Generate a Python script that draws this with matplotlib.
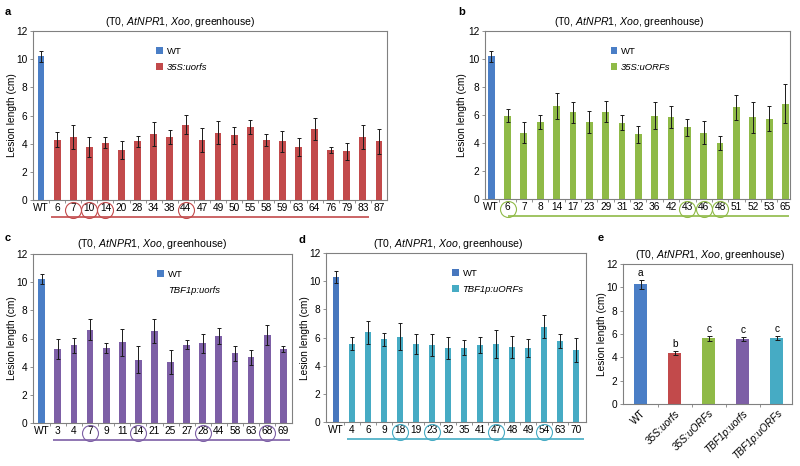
import matplotlib
matplotlib.use('Agg')
import matplotlib.pyplot as plt
from matplotlib.patches import Patch
import matplotlib.transforms as mtransforms
import numpy as np

plt.rcParams['font.family'] = ['Liberation Sans', 'DejaVu Sans']
plt.rcParams['mathtext.fontset'] = 'custom'
plt.rcParams['mathtext.rm'] = 'Liberation Sans'
plt.rcParams['mathtext.it'] = 'Liberation Sans:italic'

TITLE = r'(T0, $\it{AtNPR1}$, $\it{Xoo}$, greenhouse)'
YLABEL = 'Lesion length (cm)'

# ---- panel a (35S:uorfs) ----
a_lines = ['WT', '6', '7', '10', '14', '20', '28', '34', '38', '44', '47', '49',
           '50', '55', '58', '59', '63', '64', '76', '79', '83', '87']
a_values = [10.2, 4.27, 4.48, 3.77, 4.08, 3.55, 4.17, 4.69, 4.48, 5.36, 4.27, 4.79,
            4.6, 5.19, 4.27, 4.17, 3.77, 5.07, 3.55, 3.46, 4.48, 4.17]
a_errors = [0.4, 0.54, 0.85, 0.71, 0.4, 0.62, 0.4, 0.83, 0.5, 0.66, 0.85, 0.8,
            0.6, 0.52, 0.42, 0.73, 0.64, 0.78, 0.22, 0.6, 0.85, 0.88]
a_circled = ['7', '10', '14', '44']
a_legend = '35S:uorfs'

# ---- panel b (35S:uORFs) ----
b_lines = ['WT', '6', '7', '8', '14', '17', '23', '29', '31', '32', '36', '42',
           '43', '46', '48', '51', '52', '53', '65']
b_values = [10.2, 5.95, 4.75, 5.5, 6.65, 6.2, 5.5, 6.25, 5.45, 4.63, 5.96, 5.84,
            5.13, 4.75, 3.99, 6.56, 5.84, 5.75, 6.82]
b_errors = [0.4, 0.45, 0.78, 0.5, 0.93, 0.74, 0.79, 0.75, 0.54, 0.6, 0.98, 0.79,
            0.62, 0.81, 0.48, 0.9, 1.1, 0.92, 1.37]
b_circled = ['6', '43', '46', '48']
b_legend = '35S:uORFs'

# ---- panel c (TBF1p:uorfs) ----
c_lines = ['WT', '3', '4', '7', '9', '11', '14', '21', '25', '27', '28', '44',
           '58', '63', '68', '69']
c_values = [10.2, 5.23, 5.51, 6.63, 5.33, 5.73, 4.5, 6.53, 4.35, 5.56, 5.66, 6.18,
            4.95, 4.66, 6.27, 5.25]
c_errors = [0.35, 0.7, 0.55, 0.75, 0.33, 0.97, 0.94, 0.83, 0.85, 0.33, 0.68, 0.57,
            0.54, 0.54, 0.71, 0.24]
c_circled = ['7', '14', '28', '68']
c_legend = 'TBF1p:uorfs'

# ---- panel d (TBF1p:uORFs) ----
d_lines = ['WT', '4', '6', '9', '18', '19', '23', '32', '35', '41', '47', '48',
           '49', '54', '63', '70']
d_values = [10.3, 5.55, 6.37, 5.88, 6.05, 5.55, 5.45, 5.25, 5.28, 5.47, 5.56, 5.33,
            5.28, 6.77, 5.75, 5.09]
d_errors = [0.4, 0.47, 0.83, 0.47, 0.95, 0.73, 0.78, 0.76, 0.55, 0.6, 1.0, 0.8,
            0.64, 0.8, 0.5, 0.85]
d_circled = ['18', '23', '47', '54']
d_legend = 'TBF1p:uORFs'

# ---- panel e (summary) ----
e_groups = ['WT', '35S:uorfs', '35S:uORFs', 'TBF1p:uorfs', 'TBF1p:uORFs']
e_values = [10.25, 4.38, 5.63, 5.57, 5.63]
e_errors = [0.4, 0.18, 0.2, 0.18, 0.16]
e_letters = ['a', 'b', 'c', 'c', 'c']

C_WT = '#4a7ec6'
C_RED = '#c24a4b'
C_GREEN = '#8fba47'
C_PURPLE = '#7d5fa6'
C_CYAN = '#46abc4'
SPINE = '#808080'

W, H = 800, 466
fig = plt.figure(figsize=(8, 4.66), dpi=100)


def add_axes_px(left, top, right, bottom):
    return fig.add_axes([left / W, 1 - bottom / H, (right - left) / W, (bottom - top) / H])


def style_axes(ax):
    for s in ax.spines.values():
        s.set_color(SPINE)
        s.set_linewidth(0.8)
    ax.set_ylim(0, 12)
    ax.set_yticks(np.arange(0, 13, 2))
    ax.tick_params(axis='y', labelsize=7.3, length=2.5, width=0.6, color=SPINE, pad=1.5)
    ax.tick_params(axis='x', which='major', labelsize=7.3, length=0, pad=2.5)
    ax.tick_params(axis='x', which='minor', length=2.5, width=0.6, color=SPINE)


def line_panel(ax, lines, values, errors, color, circled, legend_label, xlim,
               underline, leg_xy, legend_patch=True, wt_color=C_WT):
    x = np.arange(len(lines))
    colors = [wt_color] + [color] * (len(lines) - 1)
    ax.bar(x, values, width=0.42, color=colors, zorder=2)
    ax.errorbar(x, values, yerr=errors, fmt='none', ecolor='#1a1a1a',
                elinewidth=0.7, capsize=1.3, capthick=0.7, zorder=3)
    style_axes(ax)
    ax.set_xlim(*xlim)
    ax.set_xticks(x)
    ax.set_xticklabels(lines)
    ax.set_xticks(x[:-1] + 0.5, minor=True)
    trans = mtransforms.blended_transform_factory(ax.transData, ax.transAxes)
    for lab in circled:
        i = lines.index(lab)
        ax.plot([i], [-0.058], transform=trans, marker='o', ms=11.5, mfc='none',
                mec=color, mew=0.8, clip_on=False)
    ax.plot(underline, [-0.1, -0.1], transform=trans, color=color, lw=1.2,
            clip_on=False, solid_capstyle='butt')
    handles = [Patch(facecolor=wt_color, edgecolor='none'),
               Patch(facecolor=color if legend_patch else 'none', edgecolor='none')]
    ax.legend(handles, ['WT', legend_label], loc='upper left', bbox_to_anchor=leg_xy,
              frameon=False, handlelength=0.7, handleheight=0.7,
              handletextpad=0.4, labelspacing=0.7, borderpad=0, borderaxespad=0,
              prop={'size': 6.8})
    leg = ax.get_legend()
    leg.get_texts()[1].set_fontstyle('italic')


# panel a
ax_a = add_axes_px(33, 31, 387, 200)
line_panel(ax_a, a_lines, a_values, a_errors, C_RED, a_circled, a_legend,
           (-0.5, len(a_lines) - 0.5), [0.6, 20.4], (0.348, 0.905))
# panel b
ax_b = add_axes_px(485, 31, 790, 199)
line_panel(ax_b, b_lines, b_values, b_errors, C_GREEN, b_circled, b_legend,
           (-0.38, len(b_lines) - 0.72), [1.0, 18.2], (0.412, 0.905))
# panel c
ax_c = add_axes_px(33, 254, 292, 423)
line_panel(ax_c, c_lines, c_values, c_errors, C_PURPLE, c_circled, c_legend,
           (-0.54, len(c_lines) - 0.46), [0.7, 15.4], (0.48, 0.905), legend_patch=False)
# panel d
ax_d = add_axes_px(326, 253, 586, 422)
line_panel(ax_d, d_lines, d_values, d_errors, C_CYAN, d_circled, d_legend,
           (-0.62, len(d_lines) - 0.38), [0.7, 15.5], (0.485, 0.905), wt_color='#4777be')

# panel e
ax_e = add_axes_px(623, 264, 792, 404)
xe = np.arange(len(e_groups))
ax_e.bar(xe, e_values, width=0.4,
         color=[C_WT, C_RED, C_GREEN, C_PURPLE, C_CYAN], zorder=2)
ax_e.errorbar(xe, e_values, yerr=e_errors, fmt='none', ecolor='#1a1a1a',
              elinewidth=0.7, capsize=1.8, capthick=0.7, zorder=3)
style_axes(ax_e)
ax_e.set_xlim(-0.52, 4.45)
ax_e.set_xticks(xe)
ax_e.set_xticklabels(e_groups, rotation=45, ha='right', rotation_mode='anchor')
for t in ax_e.get_xticklabels()[1:]:
    t.set_fontstyle('italic')
ax_e.tick_params(axis='x', which='major', pad=3)
ax_e.set_xticks(xe[:-1] + 0.5, minor=True)
for xi, v, e, lt in zip(xe, e_values, e_errors, e_letters):
    ax_e.annotate(lt, (xi, v + e), xytext=(0, 1.5), textcoords='offset points',
                  ha='center', va='bottom', fontsize=7.3)

# titles (positioned as in the reference)
for xpx, ypx in [(180, 22), (629, 22), (152, 244), (448, 244), (710, 255)]:
    fig.text(xpx / W, 1 - ypx / H, TITLE, ha='center', va='center', fontsize=7.6)

# y labels
for xpx, ypx in [(12, 115), (462, 115), (12, 338), (305, 338), (602, 334)]:
    fig.text(xpx / W, 1 - ypx / H, YLABEL, rotation=90, ha='center', va='center',
             fontsize=7.3)

# panel letters
for lt, xpx, ypx in [('a', 8, 12), ('b', 462, 12), ('c', 8, 238), ('d', 302, 240),
                     ('e', 601, 238)]:
    fig.text(xpx / W, 1 - ypx / H, lt, ha='center', va='center', fontsize=8,
             fontweight='bold')

fig.savefig('out.png', dpi=100)
